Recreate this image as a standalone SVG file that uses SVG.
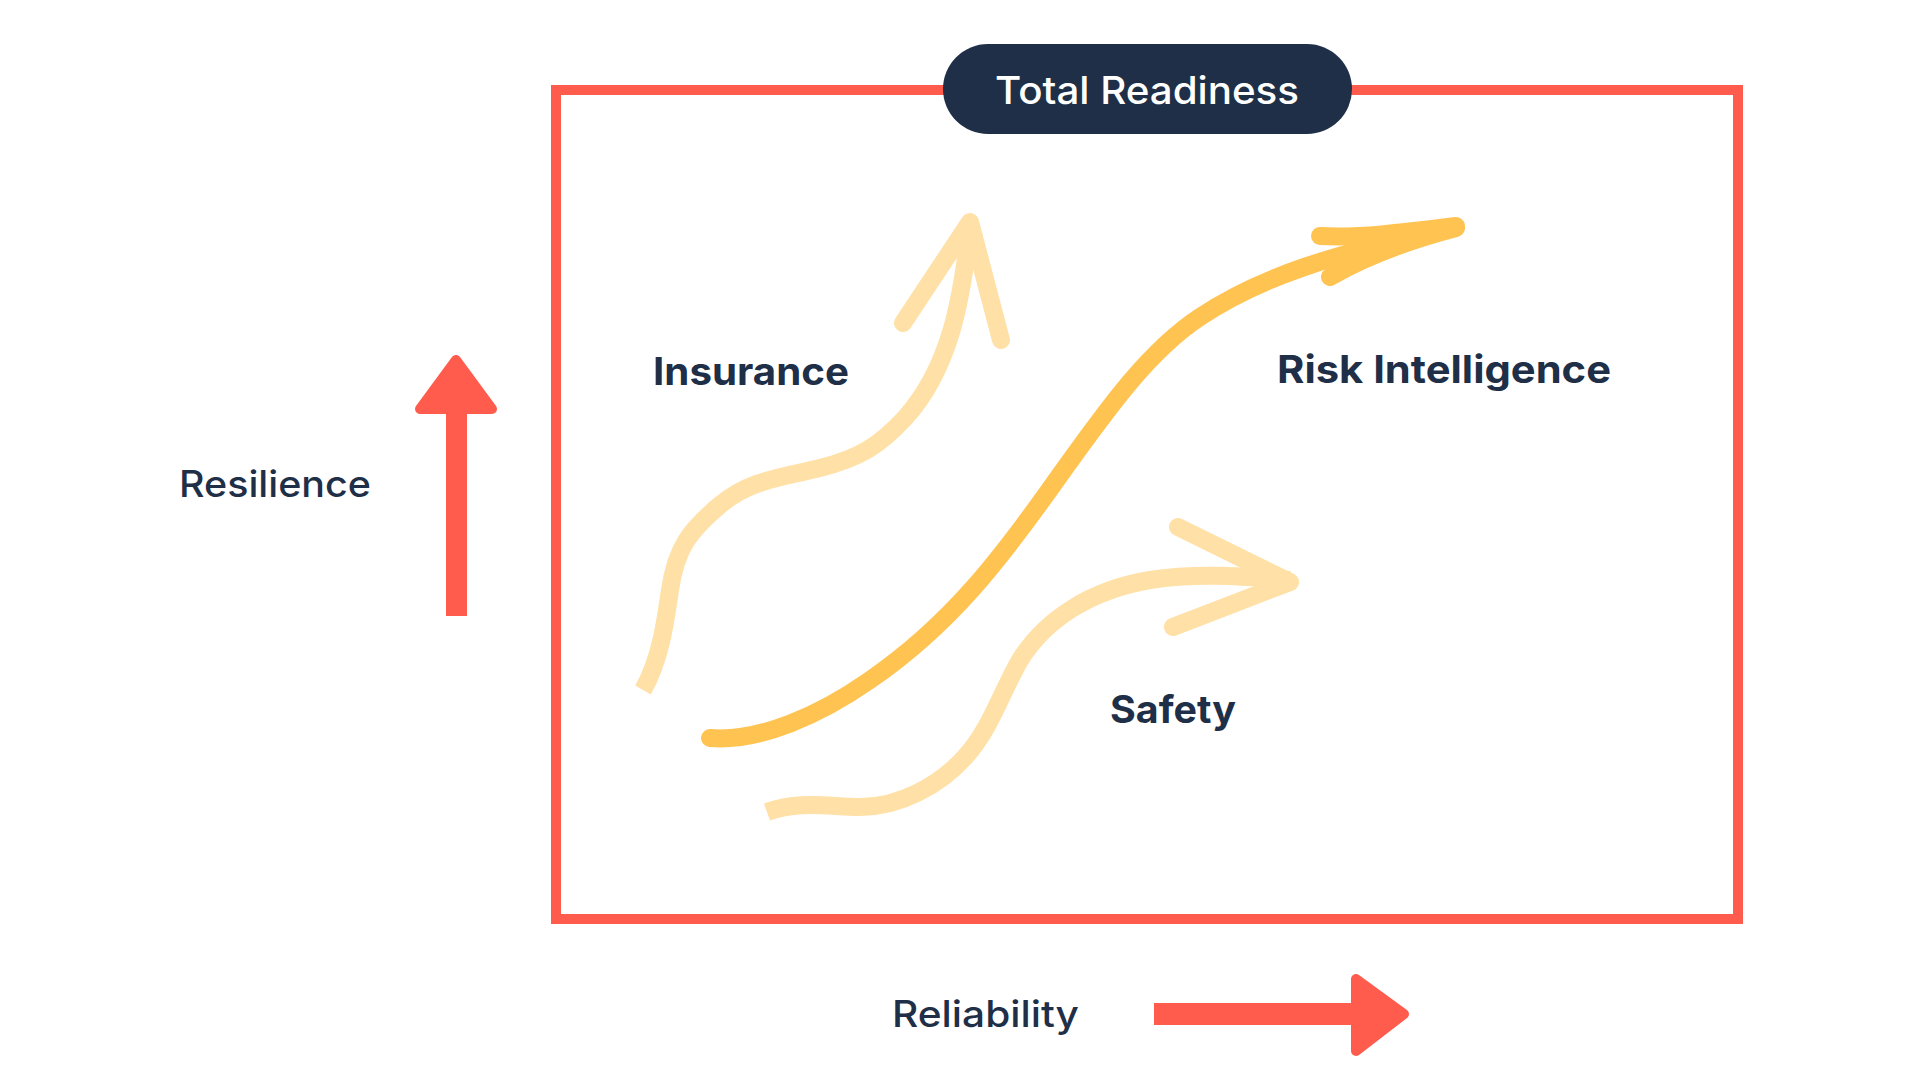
<svg xmlns="http://www.w3.org/2000/svg" width="1920" height="1080" viewBox="0 0 1920 1080">
  <style>
    .lbl { font-family: Inter, "Open Sans", "Liberation Sans", sans-serif; fill: #1F2F47; }
    .bold { font-weight: 700; font-size: 38px; }
    .med { font-weight: 500; font-size: 37px; }
    .light { fill: none; stroke: #FFE0A6; stroke-width: 18; }
    .strong { fill: none; stroke: #FFC352; stroke-width: 18; stroke-linecap: round; }
    .head { stroke-linecap: round; stroke-linejoin: round; }
    .red { fill: #FF5C4E; }
    .redhead { fill: #FF5C4E; stroke: #FF5C4E; stroke-width: 10; stroke-linejoin: round; }
  </style>
  <rect width="1920" height="1080" fill="#FFFFFF"/>

  <g id="frame">
    <rect x="556" y="90" width="1182" height="829" fill="none" stroke="#FF5C4E" stroke-width="10"/>
  </g>

  <g id="title">
    <rect x="943" y="44" width="409" height="90" rx="45" ry="45" fill="#1F2F47"/>
    <text x="995" y="104" class="lbl" style="fill:#FFFFFF;font-weight:500;font-size:38px" textLength="304" lengthAdjust="spacingAndGlyphs">Total Readiness</text>
  </g>

  <g id="axis-resilience">
    <rect x="446" y="412" width="21" height="204" class="red"/>
    <polygon points="456,360 420,409 492,409" class="redhead"/>
    <text x="179" y="497" class="lbl med" textLength="192" lengthAdjust="spacingAndGlyphs">Resilience</text>
  </g>

  <g id="axis-reliability">
    <rect x="1154" y="1003" width="202" height="22" class="red"/>
    <polygon points="1356,979 1356,1051 1404,1014" class="redhead"/>
    <text x="892" y="1027" class="lbl med" textLength="187" lengthAdjust="spacingAndGlyphs">Reliability</text>
  </g>

  <g id="connectors">
    <g id="insurance-arrow">
      <path class="light" d="M643,690 C660,660 665,625 670,590 C676,548 690,530 720,505 C750,480 780,478 820,468 C860,458 880,445 905,418 C950,368 962,300 970,225"/>
      <path class="light head" d="M903,323 L970,222 L1001,340"/>
    </g>
    <g id="risk-arrow">
      <path class="strong" d="M710,738 C760,742 820,715 870,680 C950,625 1000,560 1060,475 C1110,405 1150,350 1200,317 C1260,277 1330,255 1450,228"/>
      <path class="strong head" d="M1320,236 C1360,238 1400,233 1456,226"/>
      <path class="strong head" d="M1330,277 C1370,254 1410,240 1456,228"/>
    </g>
    <g id="safety-arrow">
      <path class="light" d="M767,812 C800,800 830,807 860,807 C900,807 940,785 965,757 C990,730 1000,695 1020,660 C1045,620 1090,590 1150,580 C1200,572 1250,577 1290,580"/>
      <path class="light head" d="M1178,527 L1290,582 L1173,627"/>
    </g>
  </g>

  <g id="node-insurance">
    <text x="653" y="385" class="lbl bold" textLength="196" lengthAdjust="spacingAndGlyphs">Insurance</text>
  </g>
  <g id="node-risk-intelligence">
    <text x="1277" y="383" class="lbl bold" textLength="334" lengthAdjust="spacingAndGlyphs">Risk Intelligence</text>
  </g>
  <g id="node-safety">
    <text x="1110" y="723" class="lbl bold" textLength="126" lengthAdjust="spacingAndGlyphs">Safety</text>
  </g>
</svg>
